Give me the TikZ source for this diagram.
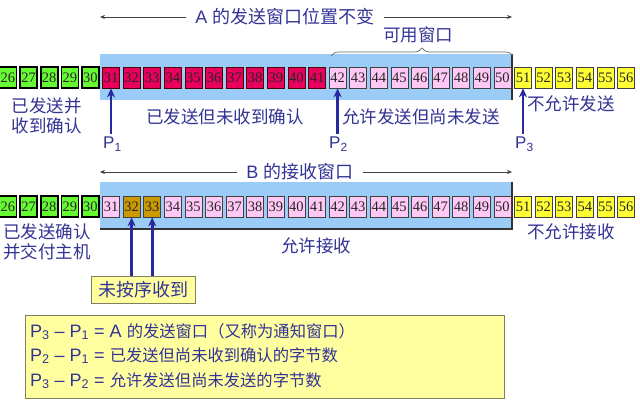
\documentclass[tikz,border=0pt]{standalone}
\usepackage{fontspec}
\setmainfont{Liberation Sans}
\newfontfamily\cjk{Noto Sans CJK SC}
\newfontfamily\numf{Liberation Serif}
\usetikzlibrary{arrows.meta,decorations.pathreplacing}
\definecolor{winblue}{RGB}{155,204,248}
\definecolor{cgreen}{RGB}{102,250,51}
\definecolor{cred}{RGB}{232,0,92}
\definecolor{cpink}{RGB}{255,200,245}
\definecolor{cyel}{RGB}{255,255,51}
\definecolor{cbrown}{RGB}{204,153,0}
\definecolor{lblue}{RGB}{51,51,150}
\definecolor{arblue}{RGB}{40,40,160}
\definecolor{boxfill}{RGB}{255,255,160}
\definecolor{boxline}{RGB}{128,128,96}
\begin{document}
\begin{tikzpicture}[x=1pt,y=-1pt,
  cell/.style={draw=black!75, line width=0.7pt, minimum width=17pt, minimum height=21pt,
    inner sep=0pt, font=\numf\fontsize{14.5}{14}\selectfont, text=black!85},
  gcell/.style={cell, fill=cgreen, draw=black, line width=1.6pt},
  rcell/.style={cell, fill=cred, draw=black!70!red},
  pcell/.style={cell, fill=cpink},
  ycell/.style={cell, fill=cyel},
  bcell/.style={cell, fill=cbrown},
  lab/.style={text=lblue, inner sep=0pt, font=\cjk\fontsize{17.5}{20}\selectfont, align=center},
  ttl/.style={text=lblue, inner xsep=9pt, inner ysep=0pt, font=\fontsize{18}{20}\selectfont},
  tarrow/.style={draw=black!75, line width=0.6pt, -{Stealth[length=5pt,width=4pt]}},
  parrow/.style={draw=arblue, line width=2.6pt, -{Stealth[length=9pt,width=8pt]}},
  plab/.style={text=lblue, inner sep=0pt, font=\fontsize{17}{18}\selectfont},
  elab/.style={text=lblue, inner sep=0pt, font=\fontsize{18}{20}\selectfont},
  ybox/.style={draw=boxline, fill=boxfill, line width=0.8pt, inner sep=0pt}
]
\useasboundingbox (0,0) rectangle (640,412);
\fill[white] (0,0) rectangle (640,412);

% windows
\fill[winblue] (100,54) rectangle (512,100);
\draw[black!80, line width=1.6pt] (512,54) -- (512,100);
\fill[winblue] (100,182) rectangle (512,229);
\draw[black!80, line width=1.6pt] (512,182) -- (512,229) -- (100,229);

% titles
\node[ttl] (ta) at (285,17) {A {\cjk 的发送窗口位置不变}};
\coordinate (tal) at (100,17);
\coordinate (tar) at (512,17);
\draw[tarrow] (ta.west) -- (tal);
\draw[tarrow] (ta.east) -- (tar);

\node[ttl] (tb) at (300,172) {B {\cjk 的接收窗口}};
\coordinate (tbl) at (100,172);
\coordinate (tbr) at (512,172);
\draw[tarrow] (tb.west) -- (tbl);
\draw[tarrow] (tb.east) -- (tbr);

% brace
\draw[black!60, line width=0.7pt, decorate, decoration={brace, amplitude=8pt}] (331,56) -- (513,56);
\node[lab] (avail) at (418,35) {可用窗口};

% row 1 cells
\foreach \n in {26,...,30} \node[gcell] (a\n) at ({8+(\n-26)*20.6},77.5) {\n};
\foreach \n in {31,...,41} \node[rcell] (a\n) at ({8+(\n-26)*20.6},77.5) {\n};
\foreach \n in {42,...,50} \node[pcell] (a\n) at ({8+(\n-26)*20.6},77.5) {\n};
\foreach \n in {51,...,56} \node[ycell] (a\n) at ({8+(\n-26)*20.6},77.5) {\n};

% row 2 cells
\foreach \n in {26,...,30} \node[gcell] (b\n) at ({8+(\n-26)*20.6},206.5) {\n};
\node[pcell] (b31) at ({8+5*20.6},206.5) {31};
\foreach \n in {32,33} \node[bcell] (b\n) at ({8+(\n-26)*20.6},206.5) {\n};
\foreach \n in {34,...,50} \node[pcell] (b\n) at ({8+(\n-26)*20.6},206.5) {\n};
\foreach \n in {51,...,56} \node[ycell] (b\n) at ({8+(\n-26)*20.6},206.5) {\n};

% row 1 labels
\node[lab] (l1) at (47,116) {已发送并\\收到确认};
\node[lab] (l2) at (225,117) {已发送但未收到确认};
\node[lab] (l3) at (421,117) {允许发送但尚未发送};
\node[lab] (l4) at (571,104) {不允许发送};

% pointers
\node[plab, anchor=north west] (p1) at (103,137) {P\textsubscript{1}};
\node[plab, anchor=north west] (p2) at (329,137) {P\textsubscript{2}};
\node[plab, anchor=north west] (p3) at (515,137) {P\textsubscript{3}};
\draw[parrow] (a31.south |- 0,134) -- (a31.south);
\draw[parrow] (a42.south |- 0,134) -- (a42.south);
\draw[parrow] (a51.south |- 0,134) -- (a51.south);

% row 2 labels
\node[lab] (m1) at (47,242) {已发送确认\\并交付主机};
\node[lab] (m2) at (316,246) {允许接收};
\node[lab] (m3) at (571,232) {不允许接收};

% out-of-order box
\node[ybox, minimum width=104pt, minimum height=27pt, text=lblue,
  font=\cjk\fontsize{18}{20}\selectfont] (ub) at (143,289.5) {未按序收到};
\draw[parrow] (b32.south |- ub.north) -- (b32.south);
\draw[parrow] (b33.south |- ub.north) -- (b33.south);

% bottom box
\node[ybox, minimum width=479pt, minimum height=83pt] (bb) at (264.5,356.5) {};
\node[elab, anchor=base west] (e1) at (30,337) {P\textsubscript{3} – P\textsubscript{1} = A {\cjk\fontsize{16.3}{18}\selectfont 的发送窗口（又称为通知窗口）}};
\node[elab, anchor=base west] (e2) at (30,361) {P\textsubscript{2} – P\textsubscript{1} = {\cjk\fontsize{16.3}{18}\selectfont 已发送但尚未收到确认的字节数}};
\node[elab, anchor=base west] (e3) at (30,386) {P\textsubscript{3} – P\textsubscript{2} = {\cjk\fontsize{16.3}{18}\selectfont 允许发送但尚未发送的字节数}};
\end{tikzpicture}
\end{document}
